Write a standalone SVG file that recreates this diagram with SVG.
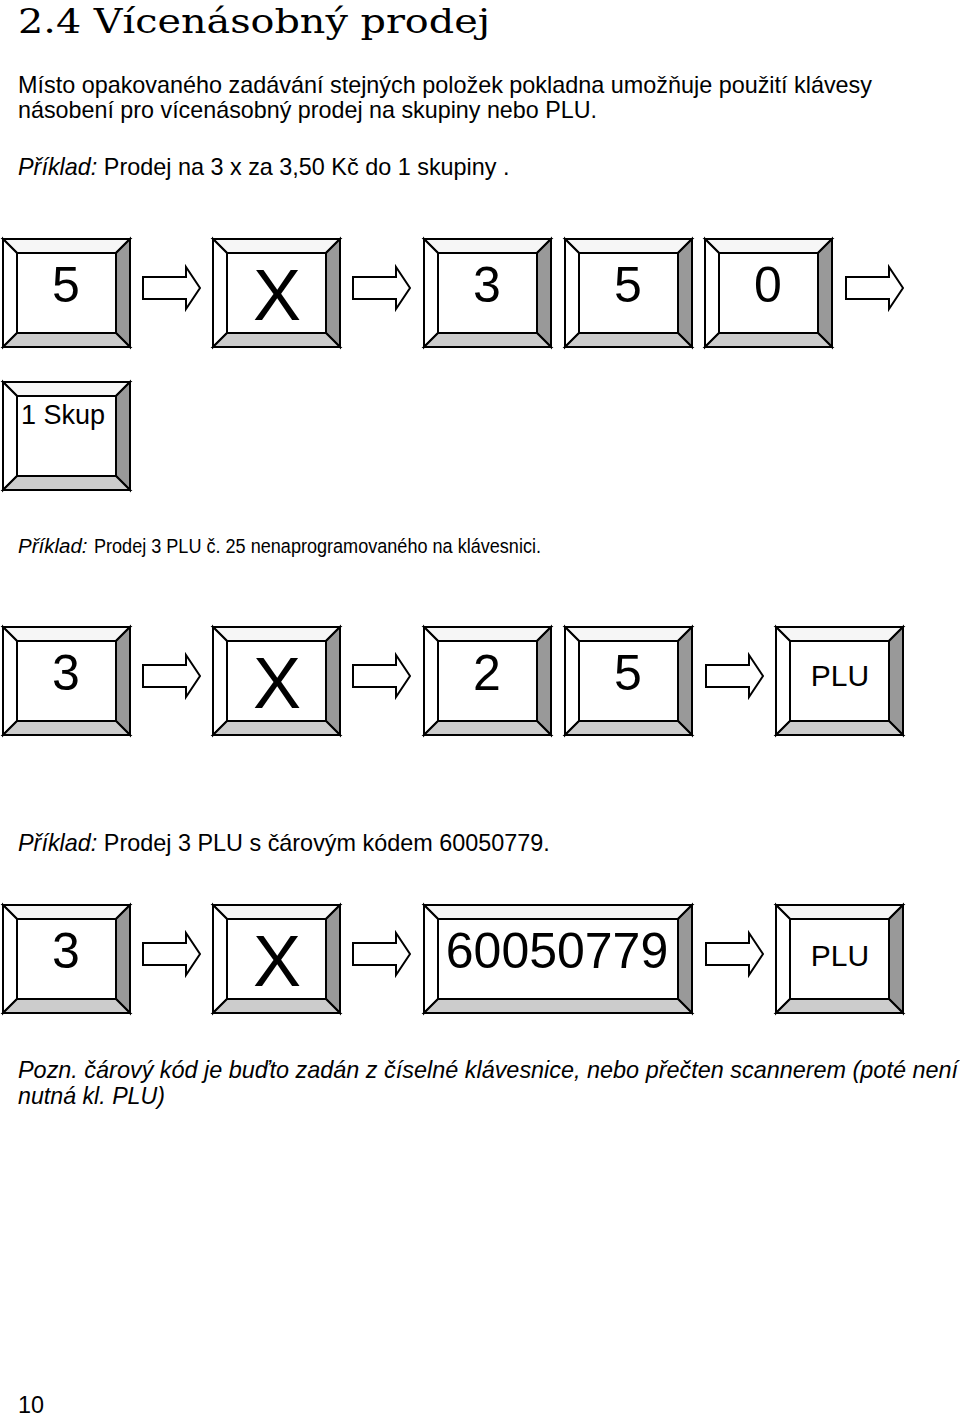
<svg xmlns="http://www.w3.org/2000/svg" xmlns:xlink="http://www.w3.org/1999/xlink" width="960" height="1418" viewBox="0 0 960 1418">
<style>
.t{font-family:"Liberation Sans",Arial,sans-serif;font-size:23.4px;fill:#000}
.i{font-style:italic}
.k{font-family:"Liberation Sans",Arial,sans-serif;fill:#000;text-anchor:middle}
.d{font-size:50px}
.x{font-size:72px}
.p{font-size:30px}
.b{stroke:#000;stroke-width:2;stroke-linejoin:miter}
.ar{fill:#fff;stroke:#000;stroke-width:2;stroke-linejoin:miter}
</style>
<defs>
<g id="key">
<rect class="b" x="0" y="0" width="127" height="108" fill="#fff"/>
<polygon class="b" points="0,0 127,0 113,14 14,14" fill="#f6f6f6"/>
<polygon class="b" points="0,0 14,14 14,94 0,108" fill="#fff"/>
<polygon class="b" points="127,0 127,108 113,94 113,14" fill="#999"/>
<polygon class="b" points="0,108 14,94 113,94 127,108" fill="#ccc"/>
<rect class="b" x="14" y="14" width="99" height="80" fill="#fff"/>
</g>
<g id="wkey">
<rect class="b" x="0" y="0" width="268" height="108" fill="#fff"/>
<polygon class="b" points="0,0 268,0 254,14 14,14" fill="#f6f6f6"/>
<polygon class="b" points="0,0 14,14 14,94 0,108" fill="#fff"/>
<polygon class="b" points="268,0 268,108 254,94 254,14" fill="#999"/>
<polygon class="b" points="0,108 14,94 254,94 268,108" fill="#ccc"/>
<rect class="b" x="14" y="14" width="240" height="80" fill="#fff"/>
</g>
<path id="arrow" class="ar" d="M0,-11 H43 V-21 L57,0 L43,21 V11 H0 Z"/>
</defs>

<text x="18" y="33" font-family="'DejaVu Serif','Liberation Serif',serif" font-size="34" textLength="472" lengthAdjust="spacingAndGlyphs">2.4 Vícenásobný prodej</text>
<text class="t" x="18" y="93" textLength="854" lengthAdjust="spacingAndGlyphs">Místo opakovaného zadávání stejných položek pokladna umožňuje použití klávesy</text>
<text class="t" x="18" y="118" textLength="579" lengthAdjust="spacingAndGlyphs">násobení pro vícenásobný prodej na skupiny nebo PLU.</text>
<text class="t" x="18" y="175"><tspan class="i">Příklad:</tspan> Prodej na 3 x za 3,50 Kč do 1 skupiny .</text>

<g id="r1k1"><use xlink:href="#key" x="3" y="239"/><text class="k d" x="66" y="302">5</text></g>
<g id="r1k2"><use xlink:href="#key" x="213" y="239"/><text class="k x" x="277" y="320">X</text></g>
<g id="r1k3"><use xlink:href="#key" x="424" y="239"/><text class="k d" x="487" y="302">3</text></g>
<g id="r1k4"><use xlink:href="#key" x="565" y="239"/><text class="k d" x="628" y="302">5</text></g>
<g id="r1k5"><use xlink:href="#key" x="705" y="239"/><text class="k d" x="768" y="302">0</text></g>
<g id="r1k6"><use xlink:href="#key" x="3" y="382"/><text class="t" x="21" y="424" style="font-size:27px">1 Skup</text></g>

<text class="t i" x="18" y="553" style="font-size:20.5px">Příklad:</text>
<text class="t" x="94" y="553" style="font-size:20.5px" textLength="447" lengthAdjust="spacingAndGlyphs">Prodej 3 PLU č. 25 nenaprogramovaného na klávesnici.</text>

<g id="r2k1"><use xlink:href="#key" x="3" y="627"/><text class="k d" x="66" y="690">3</text></g>
<g id="r2k2"><use xlink:href="#key" x="213" y="627"/><text class="k x" x="277" y="708">X</text></g>
<g id="r2k3"><use xlink:href="#key" x="424" y="627"/><text class="k d" x="487" y="690">2</text></g>
<g id="r2k4"><use xlink:href="#key" x="565" y="627"/><text class="k d" x="628" y="690">5</text></g>
<g id="r2k5"><use xlink:href="#key" x="776" y="627"/><text class="k p" x="840" y="686">PLU</text></g>

<text class="t" x="18" y="851"><tspan class="i">Příklad:</tspan> Prodej 3 PLU s čárovým kódem 60050779.</text>

<g id="r3k1"><use xlink:href="#key" x="3" y="905"/><text class="k d" x="66" y="968">3</text></g>
<g id="r3k2"><use xlink:href="#key" x="213" y="905"/><text class="k x" x="277" y="986">X</text></g>
<g id="r3k3"><use xlink:href="#wkey" x="424" y="905"/><text class="k d" x="557" y="968">60050779</text></g>
<g id="r3k4"><use xlink:href="#key" x="776" y="905"/><text class="k p" x="840" y="966">PLU</text></g>

<g id="connectors">
<use xlink:href="#arrow" x="143" y="288"/>
<use xlink:href="#arrow" x="353" y="288"/>
<use xlink:href="#arrow" x="846" y="288"/>
<use xlink:href="#arrow" x="143" y="676"/>
<use xlink:href="#arrow" x="353" y="676"/>
<use xlink:href="#arrow" x="706" y="676"/>
<use xlink:href="#arrow" x="143" y="954"/>
<use xlink:href="#arrow" x="353" y="954"/>
<use xlink:href="#arrow" x="706" y="954"/>
</g>

<text class="t i" x="18" y="1078" textLength="940" lengthAdjust="spacingAndGlyphs">Pozn. čárový kód je buďto zadán z číselné klávesnice, nebo přečten scannerem (poté není</text>
<text class="t i" x="18" y="1104" textLength="147" lengthAdjust="spacingAndGlyphs">nutná kl. PLU)</text>
<text class="t" x="18" y="1413">10</text>
</svg>
